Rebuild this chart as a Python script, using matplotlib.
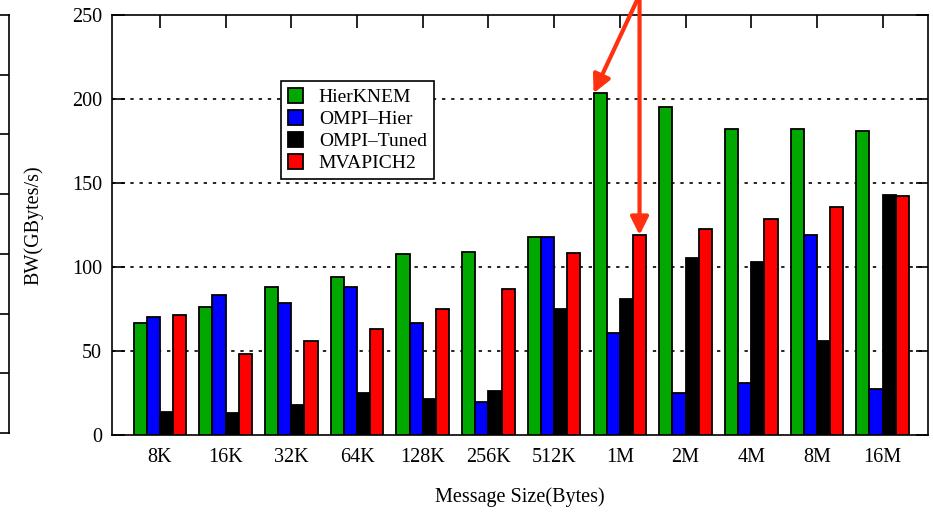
import matplotlib.pyplot as plt
import numpy as np

plt.rcParams['font.family'] = ['Liberation Serif', 'DejaVu Serif']

sizes = ['8K', '16K', '32K', '64K', '128K', '256K', '512K', '1M', '2M', '4M', '8M', '16M']

hierknem = [66.5, 76, 88, 94, 108, 109, 118, 203.4, 195.4, 182, 182, 181]
ompi_hier = [70, 83.3, 78.4, 88, 66.5, 19.8, 118, 60.5, 24.8, 30.8, 119, 27.2]
ompi_tuned = [14, 12.9, 17.9, 24.8, 21.4, 26.2, 75.2, 81.2, 105.2, 102.8, 56.2, 142.9]
mvapich2 = [71.3, 48.4, 56, 62.9, 74.8, 86.7, 108.1, 119, 122.4, 128.6, 135.5, 142.5]

series = [hierknem, ompi_hier, ompi_tuned, mvapich2]
names = ['HierKNEM', 'OMPI\u2013Hier', 'OMPI\u2013Tuned', 'MVAPICH2']
colors = ['#00a800', '#0000ff', '#000000', '#ff0000']

fig = plt.figure(figsize=(9.33, 5.13), dpi=100)
ax = fig.add_axes([0.1200, 0.1520, 0.8746, 0.8187])

x = np.arange(len(sizes))
w = 0.2
for k, (vals, name, c) in enumerate(zip(series, names, colors)):
    ax.bar(x + (k - 1.5) * w, vals, width=w, color=c, edgecolor='black',
           linewidth=1.3, label=name, zorder=3)

ax.set_xlim(-0.73, 11.69)
ax.set_ylim(0, 250)
ax.set_yticks(range(0, 251, 50))
ax.set_xticks(x)
ax.set_xticklabels(sizes)

for s in ax.spines.values():
    s.set_linewidth(1.2)
ax.tick_params(direction='in', length=9, width=1.2, labelsize=14.5,
               top=True, right=True)
ax.tick_params(axis='y', pad=7)
ax.tick_params(axis='x', pad=9)

for v in [50, 100, 150, 200]:
    ax.axhline(v, color='black', lw=1.2, dashes=(2, 3.5), zorder=1)

ax.set_ylabel('BW(GBytes/s)', fontsize=14.5)
ax.set_xlabel('Message Size(Bytes)', fontsize=14.5)
ax.yaxis.set_label_coords(-0.084, 0.5)
ax.xaxis.set_label_coords(0.5, -0.125)

leg = ax.legend(loc='upper left', bbox_to_anchor=(0.207, 0.843), fontsize=14,
                frameon=True, fancybox=False, edgecolor='black', framealpha=1,
                handlelength=0.8, handleheight=0.8, handletextpad=0.8,
                labelspacing=0.2, borderpad=0.35, borderaxespad=0)
leg.get_frame().set_linewidth(1.2)

# arrows pointing at the 1M bars
arrow_kw = dict(arrowstyle='-|>', color='#ff3010', lw=3, mutation_scale=27,
                shrinkA=0, shrinkB=0)
ax.annotate('', xy=(7 - 2 * w, hierknem[7]), xytext=(7 + 1.5 * w, 262),
            arrowprops=arrow_kw, annotation_clip=False)
ax.annotate('', xy=(7 + 1.5 * w, mvapich2[7]), xytext=(7 + 1.5 * w, 262),
            arrowprops=arrow_kw, annotation_clip=False)

# edge of the neighbouring panel on the left
side = fig.add_axes([-0.5, 0.1559, 0.5 + 9 / 933, 0.8149])
side.set_ylim(0, 7)
side.set_xticks([])
side.set_yticks(range(1, 7))
side.yaxis.tick_right()
side.tick_params(axis='y', direction='in', length=12, width=1.2, labelright=False)
side.spines['left'].set_visible(False)
for s in ['top', 'right', 'bottom']:
    side.spines[s].set_linewidth(1.2)

fig.savefig('out.png', dpi=100)
